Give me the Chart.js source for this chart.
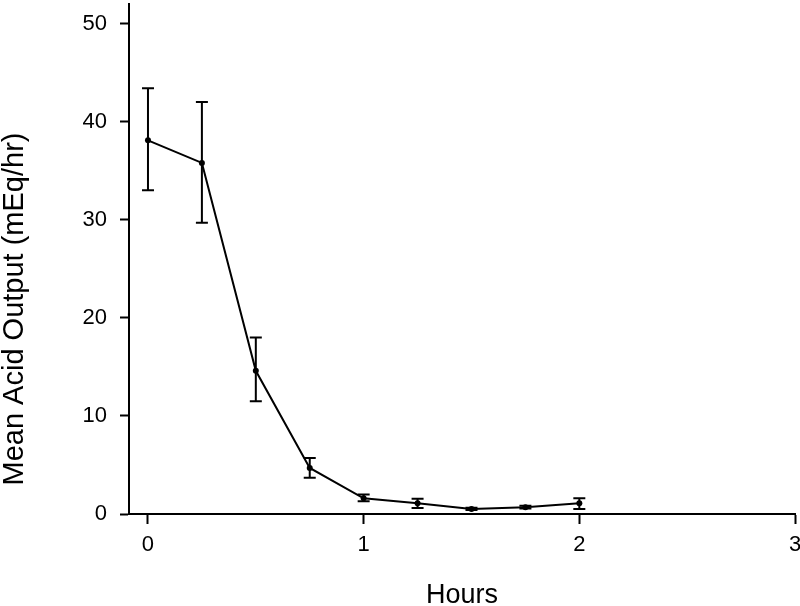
<!DOCTYPE html>
<html>
<head>
<meta charset="utf-8">
<script src="https://cdn.jsdelivr.net/npm/chart.js@4.4.1/dist/chart.umd.min.js"></script>
<style>
	html, body { margin: 0; padding: 0; background: #fff; }
	#wrap { width: 800px; height: 606px; }
</style>
</head>
<body>
<div id="wrap"><canvas id="myChart" width="800" height="606"></canvas></div>
<script>
// values
const hours = [0, 0.25, 0.5, 0.75, 1, 1.25, 1.5, 1.75, 2]
const meanOutput = [38.1, 35.8, 14.6, 4.7, 1.6, 1.1, 0.5, 0.7, 1.1]
const errLow = [33.0, 29.7, 11.5, 3.7, 1.3, 0.6, 0.4, 0.55, 0.5]
const errHigh = [43.4, 42.0, 18.0, 5.7, 2.0, 1.55, 0.65, 0.85, 1.6]
const xTicks = [0, 1, 2, 3]
const yTicks = [0, 10, 20, 30, 40, 50]
const xTitle = 'Hours'
const yTitle = 'Mean Acid Output (mEq/hr)'

const fontFamily = '"Liberation Sans", Arial, sans-serif'

// error bars drawn with the chart's own scales
const errorBars = {
	id: 'errorBars',
	afterDatasetsDraw(chart) {
		const ctx = chart.ctx
		const xs = chart.scales.x
		const ys = chart.scales.y
		ctx.save()
		ctx.strokeStyle = '#000'
		ctx.lineWidth = 2
		for (let i = 0; i < hours.length; i++) {
			const px = xs.getPixelForValue(hours[i])
			const top = ys.getPixelForValue(errHigh[i])
			const bot = ys.getPixelForValue(errLow[i])
			ctx.beginPath()
			ctx.moveTo(px, top)
			ctx.lineTo(px, bot)
			ctx.moveTo(px - 6, top)
			ctx.lineTo(px + 6, top)
			ctx.moveTo(px - 6, bot)
			ctx.lineTo(px + 6, bot)
			ctx.stroke()
		}
		ctx.restore()
	},
}

// y title placed like the original (a bit below the axis centre)
const yTitlePlugin = {
	id: 'yTitle',
	afterDraw(chart) {
		const ctx = chart.ctx
		ctx.save()
		ctx.translate(15, 309)
		ctx.rotate(-Math.PI / 2)
		ctx.font = '29px ' + fontFamily
		ctx.fillStyle = '#000'
		ctx.textAlign = 'center'
		ctx.textBaseline = 'middle'
		ctx.fillText(yTitle, 0, 0)
		ctx.restore()
	},
}

// no extra room for overhanging tick labels, the plot runs to the edges
function noLabelPadding(scale) {
	scale.paddingTop = 0
	scale.paddingBottom = 0
	scale.paddingLeft = 0
	scale.paddingRight = 0
}

const ctx = document.getElementById('myChart')
new Chart(ctx.getContext('2d'), {
	type: 'scatter',
	data: {
		datasets: [
			{
				data: hours.map((h, i) => ({ x: h, y: meanOutput[i] })),
				showLine: true,
				borderColor: '#000',
				backgroundColor: '#000',
				borderWidth: 2,
				pointRadius: 3,
				pointBorderWidth: 0,
				tension: 0,
			},
		],
	},
	options: {
		responsive: false,
		animation: false,
		layout: { padding: { top: 0, right: 5, bottom: 0, left: 0 } },
		plugins: {
			legend: { display: false },
			tooltip: { enabled: false },
		},
		scales: {
			x: {
				type: 'linear',
				min: -0.088,
				max: 3,
				afterBuildTicks: (scale) => {
					scale.ticks = xTicks.map((v) => ({ value: v }))
				},
				afterFit: (scale) => {
					scale.height = 92
					noLabelPadding(scale)
				},
				grid: {
					drawOnChartArea: false,
					drawTicks: true,
					tickLength: 10,
					tickWidth: 2,
					tickColor: '#000',
				},
				border: { display: true, color: '#000', width: 2 },
				ticks: {
					color: '#000',
					padding: 8,
					maxRotation: 0,
					font: { family: fontFamily, size: 22 },
				},
				title: {
					display: true,
					text: xTitle,
					color: '#000',
					padding: 0,
					font: { family: fontFamily, size: 27, lineHeight: 0.75 },
				},
			},
			y: {
				type: 'linear',
				min: 0,
				max: 52,
				afterBuildTicks: (scale) => {
					scale.ticks = yTicks.map((v) => ({ value: v }))
				},
				afterFit: (scale) => {
					scale.width = 129
					noLabelPadding(scale)
				},
				grid: {
					drawOnChartArea: false,
					drawTicks: true,
					tickLength: 9,
					tickWidth: 2,
					tickColor: '#000',
				},
				border: { display: true, color: '#000', width: 2 },
				ticks: {
					color: '#000',
					padding: 13,
					font: { family: fontFamily, size: 22 },
				},
			},
		},
	},
	plugins: [errorBars, yTitlePlugin],
})
</script>
</body>
</html>
